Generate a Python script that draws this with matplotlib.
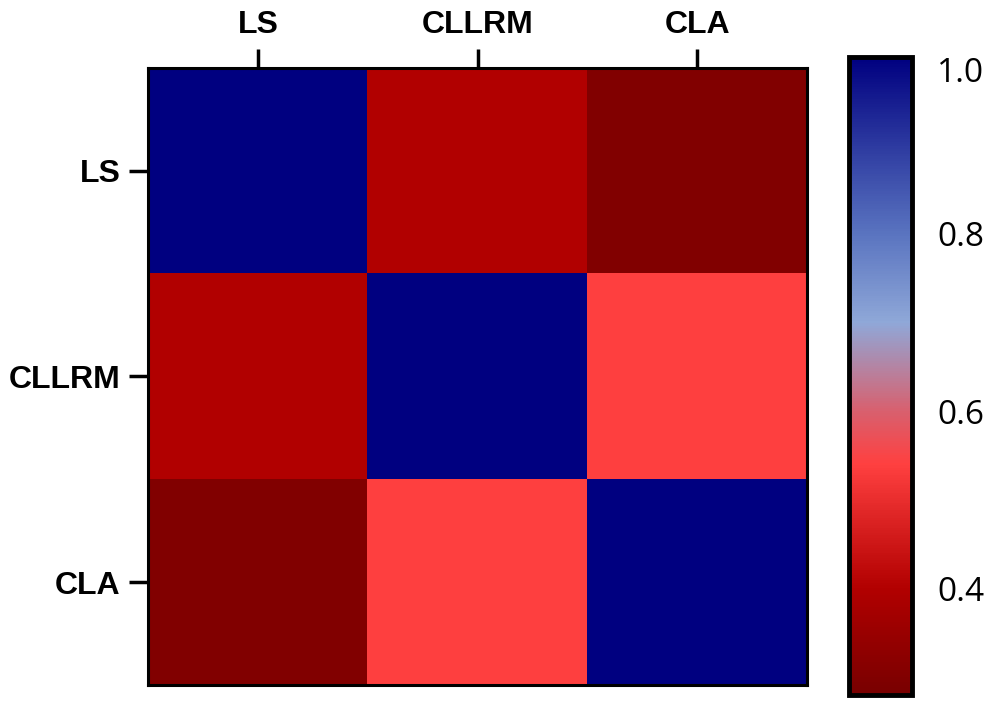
import matplotlib
matplotlib.use("Agg")
import matplotlib.pyplot as plt
import numpy as np
from matplotlib.colors import LinearSegmentedColormap, Normalize
from matplotlib.cm import ScalarMappable

labels = ["LS", "CLLRM", "CLA"]
corr = [
    [1.00, 0.40, 0.30],
    [0.40, 1.00, 0.54],
    [0.30, 0.54, 1.00],
]
cbar_ticks = [0.4, 0.6, 0.8, 1.0]
cbar_ticklabels = ["0.4", "0.6", "0.8", "1.0"]
vmin, vmax = 0.28, 1.0

nodes = [(0.28, "#780000"), (0.40, "#B20000"), (0.54, "#FF4040"),
         (0.60, "#D8606E"), (0.70, "#8FA8D8"), (0.80, "#5A74C0"),
         (1.00, "#000080")]
cmap = LinearSegmentedColormap.from_list(
    "rb", [((v - vmin) / (vmax - vmin), c) for v, c in nodes])

fig = plt.figure(figsize=(9.95, 7.01), dpi=100)
ax = fig.add_axes([0.149, 0.023, 0.662, 0.880])
norm = Normalize(vmin=vmin, vmax=vmax)
ax.imshow(np.array(corr), cmap=cmap, norm=norm, aspect="auto", interpolation="nearest")

ax.set_xticks(range(len(labels)))
ax.set_xticklabels(labels)
ax.set_yticks(range(len(labels)))
ax.set_yticklabels(labels)
ax.xaxis.tick_top()
for lab in ax.get_xticklabels() + ax.get_yticklabels():
    lab.set_fontfamily("Liberation Sans")
    lab.set_fontweight("bold")
    lab.set_fontsize(23)
ax.tick_params(axis="both", length=14, width=2.5, color="black", pad=6)
for sp in ax.spines.values():
    sp.set_linewidth(2.2)
    sp.set_color("black")

cax = fig.add_axes([0.853, 0.009, 0.064, 0.910])
cb = fig.colorbar(ScalarMappable(norm=norm, cmap=cmap), cax=cax)
cb.set_ticks(cbar_ticks)
cb.set_ticklabels(cbar_ticklabels)
cb.outline.set_linewidth(3.5)
cb.outline.set_edgecolor("black")
cax.tick_params(length=0, pad=18)
ticklabs = cax.get_yticklabels()
for lab in ticklabs:
    lab.set_fontfamily("Open Sans")
    lab.set_fontsize(24)
ticklabs[-1].set_verticalalignment("top")

fig.savefig("out.png", dpi=100)
